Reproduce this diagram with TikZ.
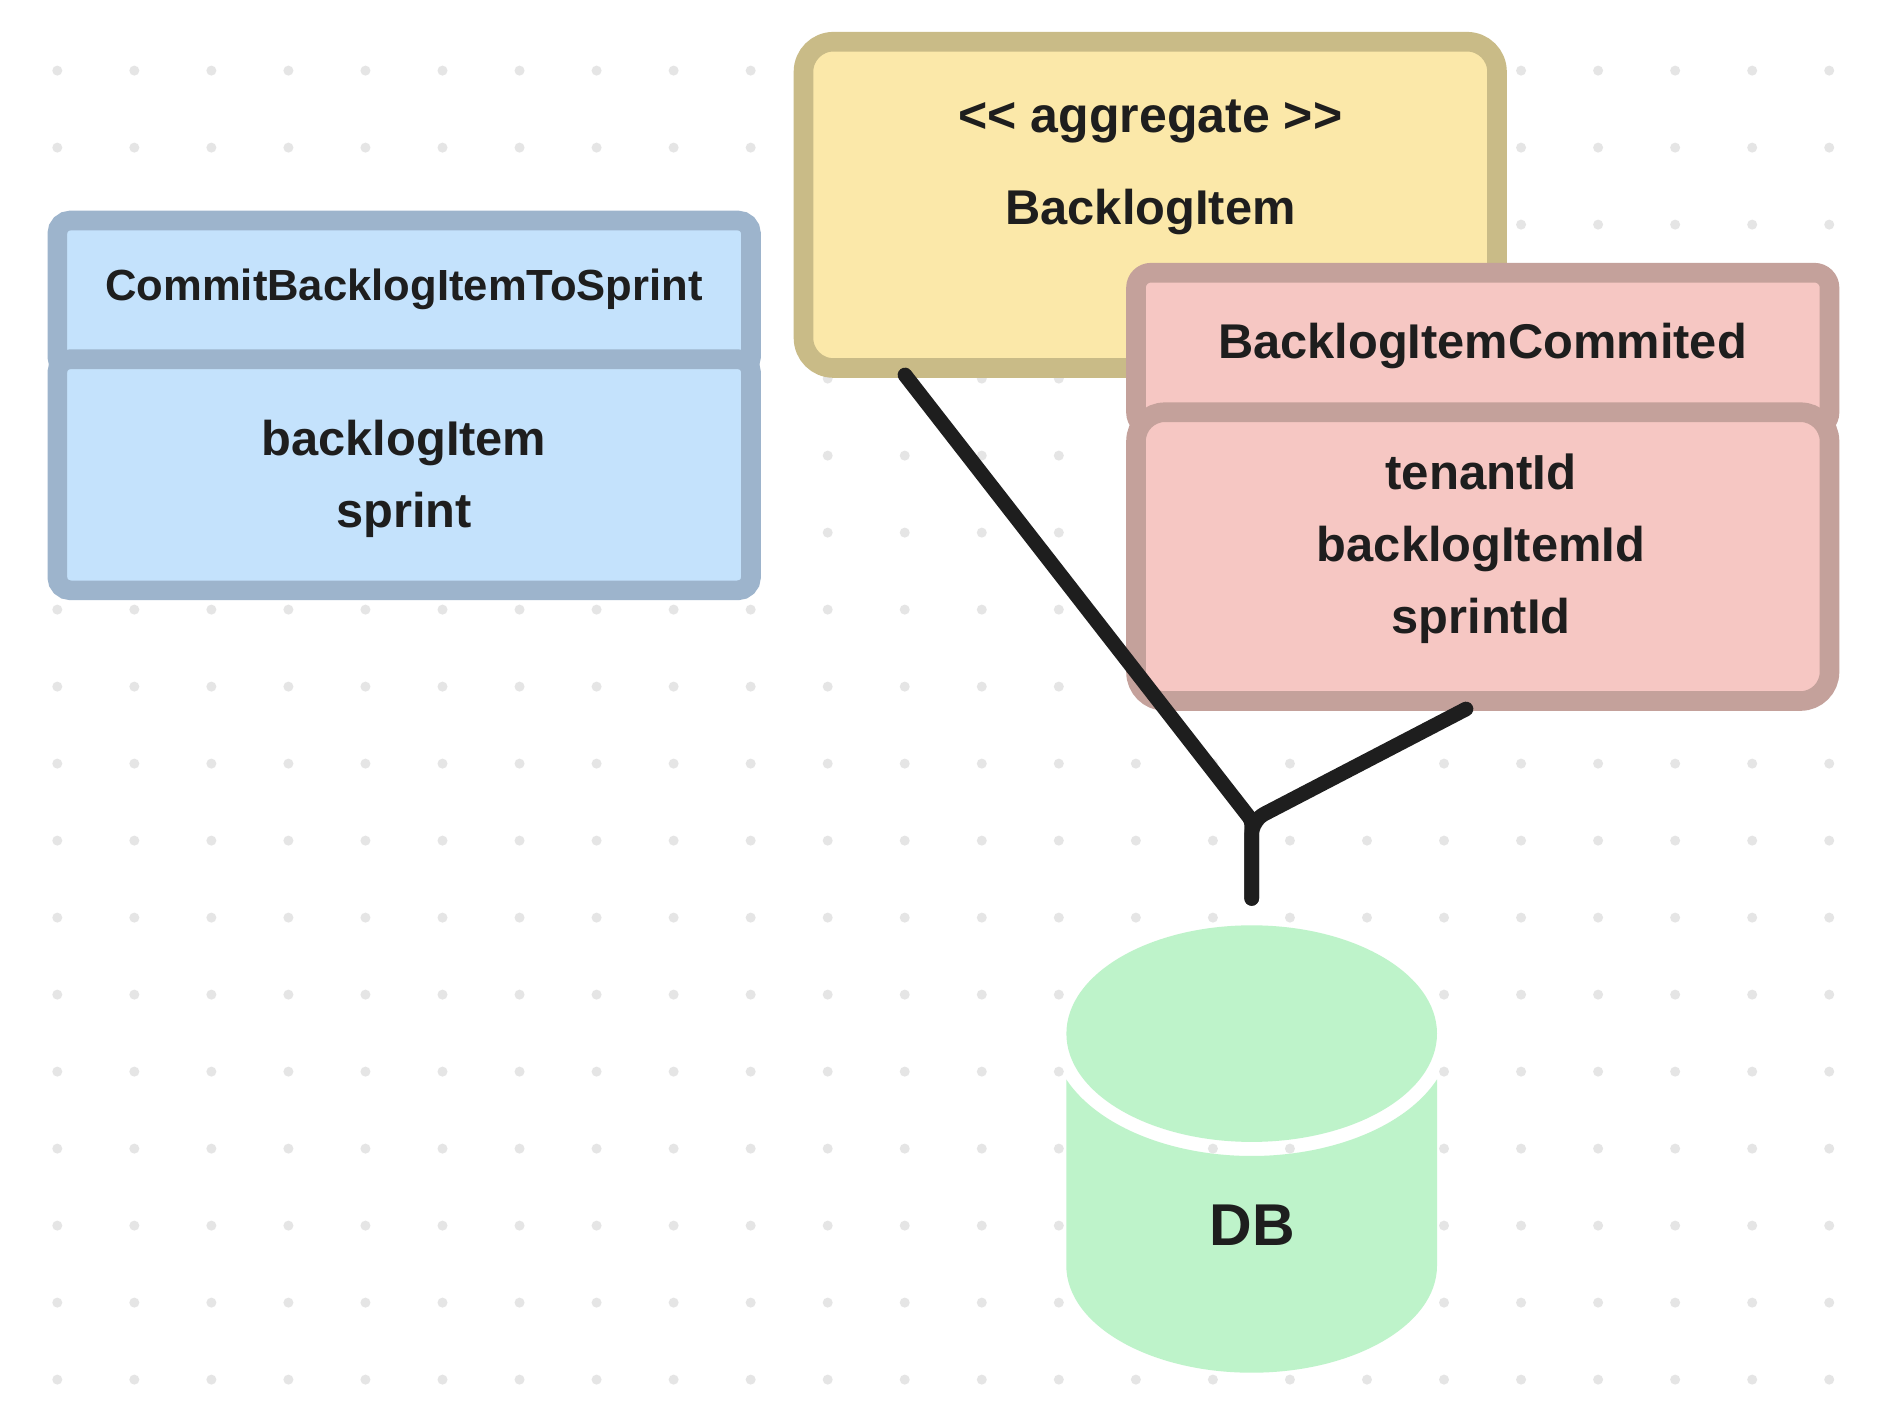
\documentclass[tikz,border=0pt]{standalone}
\usepackage{fontspec}
\setmainfont{Liberation Sans}[BoldFont={Liberation Sans Bold}]
\definecolor{ink}{HTML}{1E1E1E}
\definecolor{griddot}{HTML}{E5E5E5}
\definecolor{bluefill}{HTML}{C4E2FC}
\definecolor{blueline}{HTML}{9DB4CC}
\definecolor{yelfill}{HTML}{FBE8A9}
\definecolor{yelline}{HTML}{C9BB87}
\definecolor{pinkfill}{HTML}{F6C7C3}
\definecolor{pinkline}{HTML}{C4A19B}
\definecolor{dbgreen}{HTML}{BEF3CA}
\tikzset{
  boxbase/.style={rectangle,draw,line width=9.8pt,inner sep=0pt},
  bluebox/.style={boxbase,fill=bluefill,draw=blueline,rounded corners=6.5pt},
  yelbox/.style={boxbase,fill=yelfill,draw=yelline,rounded corners=15pt},
  pinktop/.style={boxbase,fill=pinkfill,draw=pinkline,rounded corners=7.5pt},
  pinkbody/.style={boxbase,fill=pinkfill,draw=pinkline,rounded corners=14.5pt},
  lbl/.style={anchor=base,text=ink,inner sep=0pt,font=\fontsize{#1}{#1}\selectfont\bfseries},
  lbl/.default=24.4pt,
  wire/.style={draw=ink,line width=7.35pt,line cap=round,line join=round},
}
\begin{document}
\begin{tikzpicture}[x=0.5pt,y=-0.5pt]
\useasboundingbox[fill=white] (0,0) rectangle (1886,1410);
% dot grid
\foreach \i in {0,...,23}{\foreach \j in {0,...,17}{
  \fill[griddot] ({57.3+77.04*\i},{70.6+77*\j}) circle[radius=2.5pt];
}}
% command
\node[bluebox,minimum width=346.85pt,minimum height=74.75pt] (cmdhead) at (404.15,295.25) {};
\node[bluebox,minimum width=346.85pt,minimum height=115.55pt] (cmdbody) at (404.15,474.75) {};
\node[lbl=21.8pt] (cmdtitle) at (404,300) {CommitBacklogItemToSprint};
\node[lbl] (cmdf1) at (404,455) {backlogItem};
\node[lbl] (cmdf2) at (404,527) {sprint};
% aggregate
\node[yelbox,minimum width=346.75pt,minimum height=163.15pt] (agg) at (1150.25,204.85) {};
\node[lbl=25pt] (aggst) at (1150.5,132) {<{}< aggregate >{}>};
\node[lbl] (aggname) at (1150.5,224) {BacklogItem};
% event
\node[pinktop,minimum width=346.75pt,minimum height=77.4pt] (evhead) at (1482.75,350.1) {};
\node[pinkbody,minimum width=346.75pt,minimum height=144.4pt] (evbody) at (1482.75,556.6) {};
\node[lbl] (evtitle) at (1482.5,358) {BacklogItemCommited};
\node[lbl=24.6pt] (evf1) at (1481,489) {tenantId};
\node[lbl] (evf2) at (1481,561) {backlogItemId};
\node[lbl] (evf3) at (1481,633.6) {sprintId};
% database
\fill[dbgreen] (1437,1079.4) arc[start angle=-22,end angle=-158,x radius=99.95pt,y radius=61.2pt]
  |- (1066.3,1265.7) arc[start angle=180,end angle=360,x radius=92.675pt,y radius=53.5pt] -- cycle;
\fill[dbgreen] (1251.7,1033.6) ellipse[x radius=92.65pt,y radius=54.15pt];
\node[lbl=29.5pt] (db) at (1252,1245.6) {DB};
% connectors
\coordinate (fromagg) at (905,375);
\coordinate (fromev) at (1466,709);
\coordinate (joint) at (1251.7,820.5);
\coordinate (todb) at (1251.7,898.4);
\draw[wire,rounded corners=2pt] (fromagg) -- (joint) -- (todb);
\draw[wire,rounded corners=7pt] (fromev) -- (joint) -- (todb);
\end{tikzpicture}
\end{document}
